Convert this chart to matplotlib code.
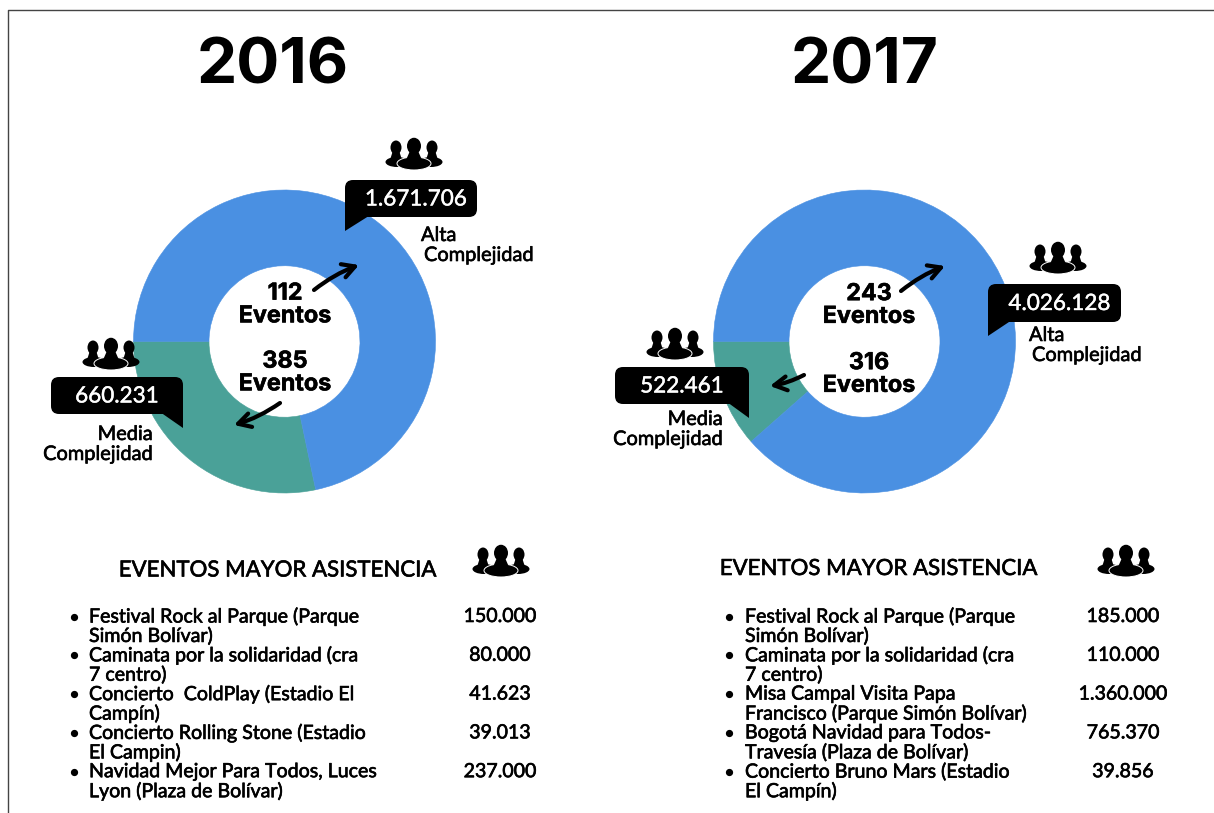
import matplotlib
matplotlib.use("Agg")
import matplotlib.pyplot as plt
import matplotlib.patheffects as pe
from matplotlib.patches import Ellipse, FancyBboxPatch, Polygon

# top-level numbers for the two donuts (media, alta)
labels = ["Media Complejidad", "Alta Complejidad"]
asist_2016 = [660231, 1671706]
asist_2017 = [522461, 4026128]
text_2016 = ["660.231", "1.671.706"]
text_2017 = ["522.461", "4.026.128"]
eventos_2016 = ["385", "112"]
eventos_2017 = ["316", "243"]

eventos_lista_2016 = [
    "Festival Rock al Parque (Parque\nSimón Bolívar)",
    "Caminata por la solidaridad (cra\n7 centro)",
    "Concierto  ColdPlay (Estadio El\nCampín)",
    "Concierto Rolling Stone (Estadio\nEl Campin)",
    "Navidad Mejor Para Todos, Luces\nLyon (Plaza de Bolívar)",
]
valores_lista_2016 = ["150.000", "80.000", "41.623", "39.013", "237.000"]
eventos_lista_2017 = [
    "Festival Rock al Parque (Parque\nSimón Bolívar)",
    "Caminata por la solidaridad (cra\n7 centro)",
    "Misa Campal Visita Papa\nFrancisco (Parque Simón Bolívar)",
    "Bogotá Navidad para Todos-\nTravesía (Plaza de Bolívar)",
    "Concierto Bruno Mars (Estadio\nEl Campín)",
]
valores_lista_2017 = ["185.000", "110.000", "1.360.000", "765.370", "39.856"]

W, H = 1214, 813
BLUE = "#4a90e2"
TEAL = "#4aa198"
THICK = [pe.withStroke(linewidth=0.45, foreground="black")]
THICK_W = [pe.withStroke(linewidth=0.3, foreground="white")]

plt.rcParams["font.family"] = ["Lato", "DejaVu Sans"]
fig = plt.figure(figsize=(W / 100, H / 100), dpi=100)
bg = fig.add_axes([0, 0, 1, 1])
bg.set_xlim(0, W)
bg.set_ylim(H, 0)
bg.axis("off")


def donut(values, cx, cy, rx=151, ry=151.5, hole=0.5):
    ax = fig.add_axes([(cx - rx) / W, 1 - (cy + ry) / H, 2 * rx / W, 2 * ry / H])
    wedges, _ = ax.pie(values, colors=[TEAL, BLUE], startangle=180, radius=1,
                       wedgeprops=dict(width=1 - hole, linewidth=0.4))
    for w in wedges:
        w.set_edgecolor(w.get_facecolor())  # hides the seam between slices
    ax.set_aspect("auto")
    ax.set_xlim(-1, 1)
    ax.set_ylim(-1, 1)


def people(ax, cx, cy):
    # side busts first, the middle one sits on top with a thin white edge
    for side in (-1, 1):
        ax.add_patch(Ellipse((cx + side * 17, cy + 8), 23, 10, fc="black", ec="none", zorder=5))
        ax.add_patch(Polygon([(cx + side * 14.5, cy - 2), (cx + side * 21.5, cy - 2),
                              (cx + side * 24, cy + 6), (cx + side * 12, cy + 6)],
                             fc="black", ec="none", zorder=5))
        ax.add_patch(Ellipse((cx + side * 18, cy - 6.5), 11, 14, fc="black", ec="none", zorder=5))
    ax.add_patch(Ellipse((cx, cy + 9.5), 34, 13, fc="black", ec="white", lw=0.7, zorder=6))
    ax.add_patch(Polygon([(cx - 4.5, cy - 2), (cx + 4.5, cy - 2), (cx + 8, cy + 6), (cx - 8, cy + 6)],
                         fc="black", ec="none", zorder=6))
    ax.add_patch(Ellipse((cx, cy - 8), 14, 16.5, fc="black", ec="none", zorder=6))


def callout(ax, x0, y0, x1, y1, txt, tail, dx=0):
    ax.add_patch(FancyBboxPatch((x0 + 7, y0 + 7), x1 - x0 - 14, y1 - y0 - 14,
                                boxstyle="round,pad=7,rounding_size=8",
                                fc="black", ec="none", zorder=7))
    ax.add_patch(Polygon(tail, closed=True, fc="black", ec="none", zorder=7))
    ax.text((x0 + x1) / 2 + dx, (y0 + y1) / 2 + 1, txt, color="white",
            fontsize=16.2, ha="center", va="center", zorder=8, path_effects=THICK_W)


def arrow(ax, a, b):
    ax.annotate("", xy=b, xytext=a, zorder=8,
                arrowprops=dict(arrowstyle="->,head_length=0.9,head_width=0.5",
                                color="black", lw=3, shrinkA=0, shrinkB=0,
                                connectionstyle="arc3,rad=-0.08"))


def evento_text(ax, x, y, n):
    ax.text(x, y, n + "\nEventos", fontfamily="Inter", fontweight="bold", fontsize=16.8,
            ha="center", va="center", linespacing=1.04, zorder=8,
            path_effects=[pe.withStroke(linewidth=0.4, foreground="black")])


def label2(ax, x1, x2, y, a, b, ha="left"):
    ax.text(x1, y, a, fontsize=14.4, va="center", ha=ha, path_effects=THICK)
    ax.text(x2, y + 20, b, fontsize=14.4, va="center", ha=ha, path_effects=THICK)


def lista(ax, x_bullet, x_text, x_val, items, vals, y0=616.5, step=38.8):
    for i, (t, v) in enumerate(zip(items, vals)):
        y = y0 + i * step
        ax.plot([x_bullet], [y], "o", color="black", ms=4.2)
        a, b = t.split("\n")
        ax.text(x_text, y, a, fontsize=14.1, va="center", ha="left", path_effects=THICK)
        ax.text(x_text, y + 19.5, b, fontsize=14.1, va="center", ha="left", path_effects=THICK)
        ax.text(x_val, y, v, fontsize=14.1, va="center", ha="center", path_effects=THICK)


# frame of the screenshot: top and left only
bg.plot([7.5, 7.5, W], [H, 10, 10], color="#444444", lw=1.0)

for x, t in [(273, "2016"), (865, "2017")]:
    bg.text(x, 67.5, t, fontfamily="Inter", fontweight="bold", fontsize=46, ha="center", va="center")

donut(asist_2016, 284.5, 341.5)
donut(asist_2017, 864.5, 341.5)

ov = fig.add_axes([0, 0, 1, 1])
ov.set_xlim(0, W)
ov.set_ylim(H, 0)
ov.axis("off")
ov.patch.set_alpha(0)

# 2016 callouts
people(ov, 414, 154)
callout(ov, 345, 180, 477, 217, text_2016[1], [(345, 200), (345, 231), (372, 214)], dx=5)
label2(ov, 421, 424, 235.5, "Alta", "Complejidad")
people(ov, 111, 354)
callout(ov, 51, 377, 183, 414, text_2016[0], [(183, 395), (183, 428), (160, 412)])
label2(ov, 153, 153, 434.5, "Media", "Complejidad", ha="right")
evento_text(ov, 285, 305, eventos_2016[1])
evento_text(ov, 285, 373, eventos_2016[0])
arrow(ov, (314, 290), (359, 265))
arrow(ov, (280, 403), (234, 425))

# 2017 callouts
people(ov, 1058, 258)
callout(ov, 988, 284, 1121, 322, text_2017[1], [(988, 305), (988, 336), (1015, 318)], dx=5)
label2(ov, 1029, 1032, 335.5, "Alta", "Complejidad")
people(ov, 675, 344)
callout(ov, 615, 367, 749, 404, text_2017[0], [(749, 385), (749, 418), (727, 402)])
label2(ov, 723, 723, 419.5, "Media", "Complejidad", ha="right")
evento_text(ov, 869, 305.5, eventos_2017[1])
evento_text(ov, 869, 374.5, eventos_2017[0])
arrow(ov, (901, 291), (945, 266))
arrow(ov, (804, 375), (770, 386))

# lists
ov.text(277.5, 570.5, "EVENTOS MAYOR ASISTENCIA", fontsize=16, ha="center", va="center", path_effects=THICK)
ov.text(878.5, 569, "EVENTOS MAYOR ASISTENCIA", fontsize=16, ha="center", va="center", path_effects=THICK)
people(ov, 501, 561)
people(ov, 1126, 561)
lista(ov, 74, 89, 500, eventos_lista_2016, valores_lista_2016)
lista(ov, 729, 745, 1123, eventos_lista_2017, valores_lista_2017)

fig.savefig("out.png", dpi=100)
